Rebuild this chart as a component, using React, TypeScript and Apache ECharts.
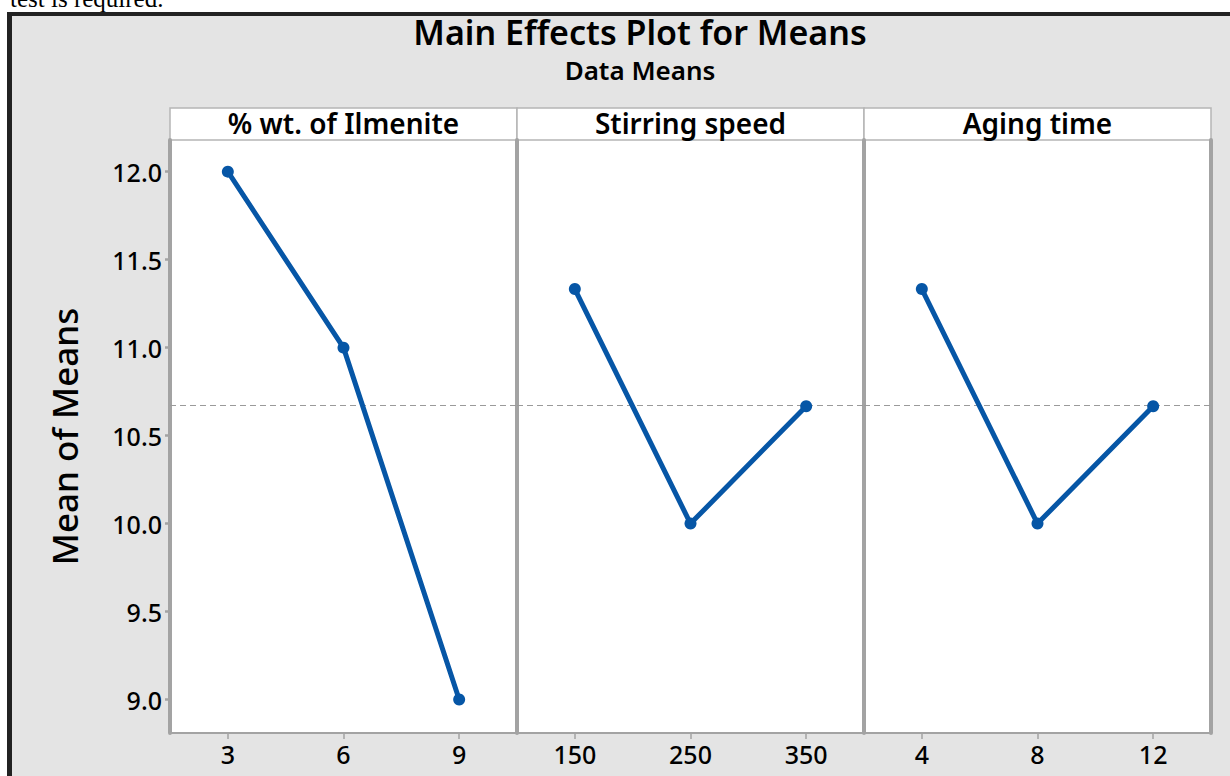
import React, { useEffect, useRef } from "react";
import * as echarts from "echarts";

const PANEL_TITLES = ["% wt. of Ilmenite", "Stirring speed", "Aging time"];
const X_LEVELS_1 = [3, 6, 9];
const X_LEVELS_2 = [150, 250, 350];
const X_LEVELS_3 = [4, 8, 12];
const MEANS_1 = [12.0, 11.0, 9.0];
const MEANS_2 = [11.333, 10.0, 10.667];
const MEANS_3 = [11.333, 10.0, 10.667];
const Y_TICKS = [9.0, 9.5, 10.0, 10.5, 11.0, 11.5, 12.0];
const GRAND_MEAN = 10.667;

const X_RANGES = [
  [1.5, 10.5],
  [100, 400],
  [2, 14],
];
const Y_MIN = 8.81;
const Y_MAX = 12.18;

const FONT = "Noto Sans";
const LINE_COLOR = "#0656a6";
const AXIS_GREY = "#a3a3a3";

const PANEL_LEFT = [170, 517, 864];
const PANEL_W = 347;
const PLOT_TOP = 140;
const PLOT_BOTTOM = 733;

export default function App() {
  const ref = useRef<HTMLDivElement>(null);

  useEffect(() => {
    if (!ref.current) return;
    const chart = echarts.init(ref.current, null, { renderer: "svg" });
    const levels = [X_LEVELS_1, X_LEVELS_2, X_LEVELS_3];
    const means = [MEANS_1, MEANS_2, MEANS_3];

    const grids = PANEL_LEFT.map((l) => ({
      left: l,
      top: PLOT_TOP,
      width: PANEL_W,
      height: PLOT_BOTTOM - PLOT_TOP,
      show: true,
      backgroundColor: "#ffffff",
      borderWidth: 0,
    }));

    const xAxes = levels.map((lv, i) => ({
      type: "value",
      gridIndex: i,
      min: X_RANGES[i][0],
      max: X_RANGES[i][1],
      splitLine: { show: false },
      axisLine: { show: true, lineStyle: { color: AXIS_GREY, width: 2 } },
      axisTick: {
        show: true,
        customValues: lv,
        length: 6,
        lineStyle: { color: AXIS_GREY, width: 1.5 },
      },
      axisLabel: {
        customValues: lv,
        color: "#000",
        fontFamily: FONT,
        fontWeight: 500,
        fontSize: 25,
        margin: 8,
      },
    }));

    const yAxes: any[] = levels.map((_, i) => ({
      type: "value",
      gridIndex: i,
      min: Y_MIN,
      max: Y_MAX,
      splitLine: { show: false },
      axisLine: { show: true, lineStyle: { color: AXIS_GREY, width: 4 } },
      axisTick: {
        show: i === 0,
        customValues: Y_TICKS,
        length: 5,
        lineStyle: { color: AXIS_GREY, width: 2.5 },
      },
      axisLabel: {
        show: i === 0,
        customValues: Y_TICKS,
        formatter: (v: number) => v.toFixed(1),
        color: "#000",
        fontFamily: FONT,
        fontWeight: 500,
        fontSize: 25,
        margin: 8,
      },
      name: i === 0 ? "Mean of Means" : "",
      nameLocation: "middle",
      nameGap: 88,
      nameTextStyle: {
        fontFamily: FONT,
        fontWeight: 500,
        fontSize: 35,
        color: "#000",
      },
    }));
    // right edge of the last panel
    yAxes.push({
      type: "value",
      gridIndex: 2,
      position: "right",
      min: Y_MIN,
      max: Y_MAX,
      splitLine: { show: false },
      axisLine: { show: true, lineStyle: { color: AXIS_GREY, width: 4 } },
      axisTick: { show: false },
      axisLabel: { show: false },
    });

    const series = levels.map((lv, i) => ({
      type: "line",
      xAxisIndex: i,
      yAxisIndex: i,
      data: lv.map((x, j) => [x, means[i][j]]),
      symbol: "circle",
      symbolSize: 12,
      lineStyle: { color: LINE_COLOR, width: 5 },
      itemStyle: { color: LINE_COLOR },
      z: 5,
      markLine: {
        silent: true,
        symbol: "none",
        label: { show: false },
        lineStyle: { color: "#9a9a9a", type: [6, 4], width: 1.2 },
        data: [{ yAxis: GRAND_MEAN }],
        z: 2,
      },
    }));

    const strips: any[] = PANEL_LEFT.map((l, i) => ({
      type: "group",
      children: [
        {
          type: "rect",
          shape: { x: l, y: 108, width: PANEL_W, height: 32 },
          style: { fill: "#ffffff", stroke: "#b5b5b5", lineWidth: 1.5 },
        },
        {
          type: "text",
          x: l + PANEL_W / 2,
          y: 123,
          style: {
            text: PANEL_TITLES[i],
            fill: "#000",
            font: `600 28px "${FONT}"`,
            lineHeight: 28,
            align: "center",
            verticalAlign: "middle",
          },
        },
      ],
    }));

    chart.setOption({
      animation: false,
      backgroundColor: "#ffffff",
      grid: grids,
      xAxis: xAxes,
      yAxis: yAxes,
      series,
      graphic: [
        {
          type: "rect",
          shape: { x: 12, y: 16, width: 1218, height: 760 },
          style: { fill: "#e4e4e4" },
          z: -10,
        },
        {
          type: "rect",
          shape: { x: 7, y: 12, width: 5, height: 764 },
          style: { fill: "#222" },
          z: -9,
        },
        {
          type: "rect",
          shape: { x: 7, y: 12, width: 1223, height: 4 },
          style: { fill: "#222" },
          z: -9,
        },
        {
          type: "text",
          x: 10,
          y: 11,
          style: {
            text: "test is required.",
            fill: "#000",
            font: '25px "Liberation Serif"',
            align: "left",
            verticalAlign: "bottom",
          },
        },
        {
          type: "text",
          x: 640,
          y: 32,
          style: {
            text: "Main Effects Plot for Means",
            fill: "#000",
            font: `600 34px "${FONT}"`,
            lineHeight: 34,
            align: "center",
            verticalAlign: "middle",
          },
        },
        {
          type: "text",
          x: 640,
          y: 70,
          style: {
            text: "Data Means",
            fill: "#000",
            font: `600 26px "${FONT}"`,
            lineHeight: 26,
            align: "center",
            verticalAlign: "middle",
          },
        },
        ...strips,
      ],
    });
    return () => chart.dispose();
  }, []);

  return (
    <div
      ref={ref}
      style={{ position: "fixed", left: 0, top: 0, width: 1230, height: 776 }}
    />
  );
}
